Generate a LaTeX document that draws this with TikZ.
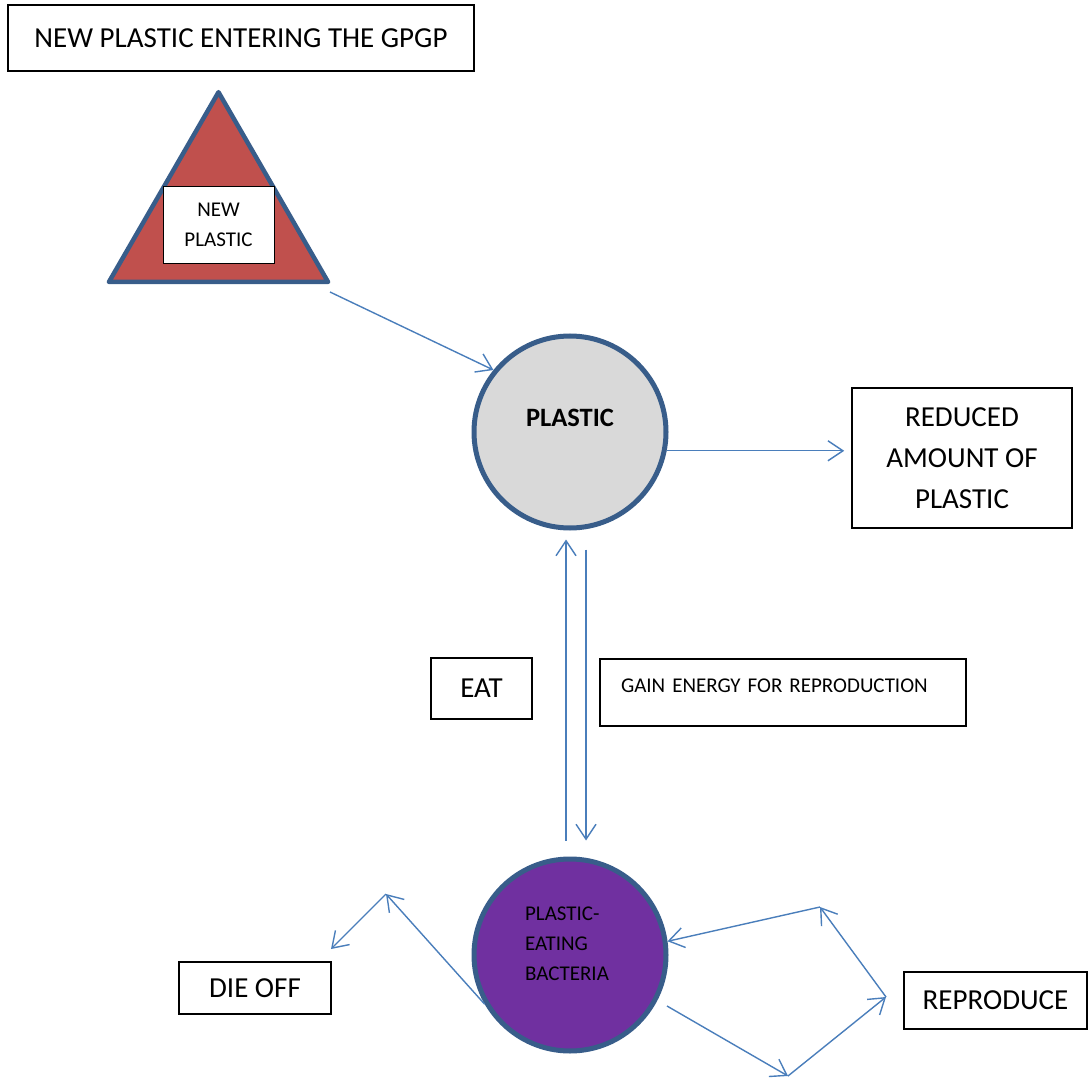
\documentclass[tikz,border=0pt]{standalone}
\usepackage{fontspec}
\setmainfont{Carlito}
\usetikzlibrary{arrows.meta,shapes.geometric}
\definecolor{flowblue}{HTML}{4A7EBB}
\definecolor{rimblue}{HTML}{385D8A}
\definecolor{trired}{HTML}{C0504D}
\definecolor{plasticgrey}{HTML}{D9D9D9}
\definecolor{bactpurple}{HTML}{7030A0}
\tikzset{
	txtbox/.style={draw=black, line width=1.6pt, fill=white},%plain text boxes
	bigtxt/.style={font=\fontsize{29}{41}\selectfont},
	smalltxt/.style={font=\fontsize{21}{30}\selectfont},
	blob/.style={circle, draw=rimblue, line width=5pt, minimum size=192pt},
	flow/.style={draw=flowblue, line width=1.4pt, -{Straight Barb[length=15pt,width=20pt]}}
}

\begin{document}
\begin{tikzpicture}[x=1pt, y=-1pt]
	\tikzstyle{every node}+=[inner sep=0pt]
	\useasboundingbox (0,0) rectangle (1088,1078);
	\node [txtbox, bigtxt, minimum width=466pt, minimum height=66pt] (title) at (241,38) {NEW PLASTIC ENTERING THE GPGP};
	\node [regular polygon, regular polygon sides=3, minimum size=253pt, draw=rimblue, fill=trired, line width=4.5pt, line join=round] (tri) at (218.5,218.7) {};
	\node [txtbox, smalltxt, line width=0.8pt, minimum width=111pt, minimum height=77pt, align=center] (newbox) at (218.5,224.5) {NEW\\PLASTIC};
	\node [blob, fill=plasticgrey, label={[yshift=14pt, font=\fontsize{26.5}{30}\selectfont\bfseries]center:PLASTIC}] (plastic) at (570,432) {};
	\node [txtbox, bigtxt, minimum width=220pt, minimum height=140pt, align=center] (reduced) at (962,458) {REDUCED\\AMOUNT OF\\PLASTIC};
	\node [txtbox, bigtxt, minimum width=101pt, minimum height=61pt] (eat) at (481.5,688.5) {EAT};
	\node [txtbox, smalltxt, minimum width=366pt, minimum height=67pt, text width=324pt, align=left, text height=10pt, text depth=10pt] (gain) at (783,692.5) {GAIN ENERGY FOR REPRODUCTION};
	\node [blob, fill=bactpurple, label={[xshift=-3pt, yshift=11pt, smalltxt, align=left]center:PLASTIC-\\EATING\\BACTERIA}] (bact) at (570,955) {};
	\node [txtbox, bigtxt, minimum width=152pt, minimum height=52pt] (dieoff) at (255,988) {DIE OFF};
	\node [txtbox, bigtxt, minimum width=183pt, minimum height=57pt] (reproduce) at (995.5,1000.5) {REPRODUCE};
	\coordinate (triout) at (330,292);
	\coordinate (dieturn) at (386,894);
	\coordinate (dieend) at (331,949);
	\coordinate (repA) at (667,1006);
	\coordinate (repB) at (788,1076);
	\coordinate (repC) at (886,997);
	\coordinate (repD) at (820,907);
	\draw [flow] (triout) -- (plastic.141);
	\draw [flow, shorten >=7pt] (plastic.-11) -- (plastic.-11 -| reduced.west);
	\draw [flow] ([xshift=-4pt, yshift=16pt]bact.north) -- ([xshift=-4pt, yshift=-9pt]plastic.south);
	\draw [flow] ([xshift=16pt, yshift=-19pt]plastic.south) -- ([xshift=16pt, yshift=16pt]bact.north);
	\draw [flow] (bact.210) -- (dieturn);
	\draw [flow] (dieturn) -- (dieend);
	\draw [flow] (repA) -- (repB);
	\draw [flow] (repB) -- (repC);
	\draw [flow] (repC) -- (repD);
	\draw [flow] (repD) -- (bact.8);
\end{tikzpicture}
\end{document}
